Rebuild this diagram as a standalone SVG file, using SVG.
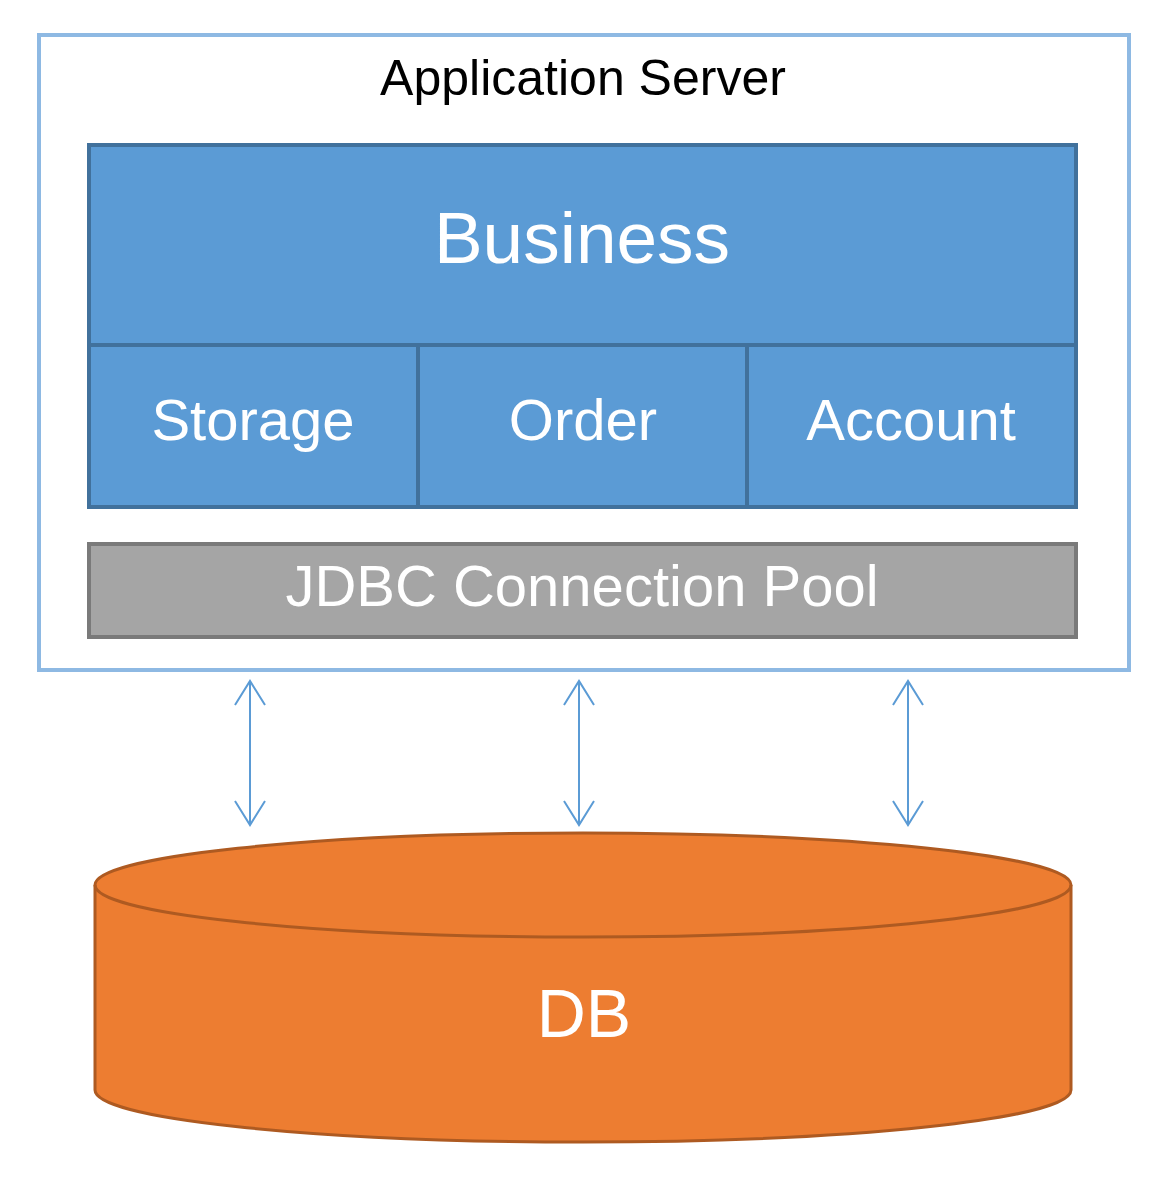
<svg xmlns="http://www.w3.org/2000/svg" width="1168" height="1184" viewBox="0 0 1168 1184">
<defs>
<style>
text{font-family:"Liberation Sans",Arial,sans-serif;text-anchor:middle}
.w{fill:#ffffff}
.biz{fill:#5B9BD5;stroke:#41719C;stroke-width:4}
.arr{stroke:#5B9BD5;stroke-width:2;fill:none}
</style>
</defs>
<rect width="1168" height="1184" fill="#ffffff"/>
<g id="app-server">
<rect x="39" y="35" width="1090" height="635" fill="#ffffff" stroke="#8EB9E3" stroke-width="4"/>
<text x="583" y="95" font-size="50" fill="#000000">Application Server</text>
</g>
<g id="business">
<rect class="biz" x="89" y="145" width="987" height="200"/>
<text class="w" x="582" y="263" font-size="73">Business</text>
</g>
<g id="storage">
<rect class="biz" x="89" y="345" width="329" height="162"/>
<text class="w" x="253" y="440" font-size="58">Storage</text>
</g>
<g id="order">
<rect class="biz" x="418" y="345" width="329" height="162"/>
<text class="w" x="583" y="440" font-size="58">Order</text>
</g>
<g id="account">
<rect class="biz" x="747" y="345" width="329" height="162"/>
<text class="w" x="911" y="440" font-size="58">Account</text>
</g>
<g id="jdbc-pool">
<rect x="89" y="544" width="987" height="93" fill="#A5A5A5" stroke="#7A7A7A" stroke-width="4"/>
<text class="w" x="582" y="606" font-size="58">JDBC Connection Pool</text>
</g>
<g id="connectors">
<path class="arr" d="M250 681V825M235 705L250 681L265 705M235 801L250 825L265 801"/>
<path class="arr" d="M579 681V825M564 705L579 681L594 705M564 801L579 825L594 801"/>
<path class="arr" d="M908 681V825M893 705L908 681L923 705M893 801L908 825L923 801"/>
</g>
<g id="db">
<path d="M95 885V1090A488 52 0 0 0 1071 1090V885A488 52 0 0 0 95 885Z" fill="#ED7D31" stroke="#AE5A21" stroke-width="3"/>
<path d="M95 885A488 52 0 0 0 1071 885" fill="none" stroke="#AE5A21" stroke-width="3"/>
<text class="w" x="584" y="1037" font-size="68">DB</text>
</g>
</svg>
